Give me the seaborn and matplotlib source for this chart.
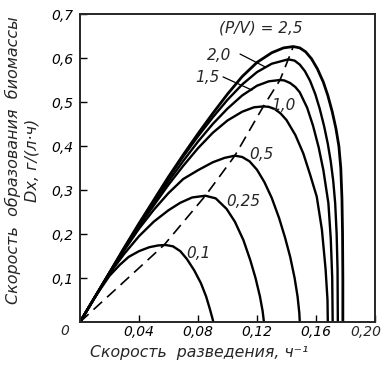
import matplotlib
matplotlib.use("Agg")
import matplotlib.pyplot as plt
import seaborn as sns
import pandas as pd

# скорость разведения D и продуктивность DX для каждого P/V
d_01 = [0, 0.01, 0.02, 0.027, 0.033, 0.04, 0.047, 0.053, 0.058, 0.063, 0.068, 0.0725, 0.0775, 0.082, 0.0855, 0.088, 0.0898, 0.0904]
y_01 = [0, 0.056, 0.105, 0.130, 0.148, 0.161, 0.170, 0.174, 0.175, 0.172, 0.161, 0.143, 0.117, 0.088, 0.058, 0.030, 0.008, 0]

d_025 = [0, 0.01, 0.02, 0.03, 0.04, 0.05, 0.06, 0.068, 0.076, 0.085, 0.092, 0.0994, 0.105, 0.1108, 0.1155, 0.119, 0.122, 0.1238, 0.1247]
y_025 = [0, 0.056, 0.11, 0.155, 0.195, 0.228, 0.254, 0.271, 0.283, 0.287, 0.281, 0.257, 0.228, 0.186, 0.140, 0.10, 0.058, 0.025, 0]

d_05 = [0, 0.01, 0.02, 0.03, 0.04, 0.05, 0.06, 0.07, 0.08, 0.09, 0.098, 0.105, 0.110, 0.115, 0.120, 0.125, 0.130, 0.135, 0.139, 0.1425, 0.1455, 0.1475, 0.1487, 0.149]
y_05 = [0, 0.056, 0.111, 0.163, 0.212, 0.255, 0.293, 0.325, 0.345, 0.363, 0.373, 0.378, 0.375, 0.365, 0.346, 0.318, 0.282, 0.236, 0.192, 0.148, 0.100, 0.058, 0.02, 0]

d_10 = [0, 0.01, 0.02, 0.03, 0.04, 0.05, 0.06, 0.07, 0.08, 0.09, 0.10, 0.11, 0.118, 0.1243, 0.128, 0.132, 0.136, 0.140, 0.146, 0.1514, 0.156, 0.1605, 0.164, 0.1665, 0.1678, 0.168]
y_10 = [0, 0.056, 0.112, 0.166, 0.218, 0.265, 0.312, 0.355, 0.395, 0.43, 0.458, 0.478, 0.488, 0.490, 0.489, 0.484, 0.474, 0.459, 0.425, 0.383, 0.335, 0.285, 0.21, 0.12, 0.05, 0]

d_15 = [0, 0.01, 0.02, 0.03, 0.04, 0.05, 0.06, 0.07, 0.08, 0.09, 0.10, 0.11, 0.12, 0.128, 0.1356, 0.1385, 0.1425, 0.146, 0.149, 0.154, 0.158, 0.1618, 0.165, 0.1684, 0.170, 0.171, 0.1713]
y_15 = [0, 0.056, 0.112, 0.167, 0.22, 0.27, 0.32, 0.366, 0.41, 0.45, 0.485, 0.515, 0.537, 0.547, 0.550, 0.549, 0.543, 0.534, 0.522, 0.487, 0.446, 0.397, 0.345, 0.27, 0.19, 0.10, 0]

d_20 = [0, 0.01, 0.02, 0.03, 0.04, 0.05, 0.06, 0.07, 0.08, 0.09, 0.10, 0.11, 0.12, 0.13, 0.1412, 0.1455, 0.149, 0.1525, 0.156, 0.1595, 0.1625, 0.1655, 0.168, 0.170, 0.1717, 0.173, 0.174, 0.1746, 0.1748]
y_20 = [0, 0.056, 0.112, 0.168, 0.222, 0.274, 0.328, 0.376, 0.422, 0.465, 0.505, 0.54, 0.568, 0.587, 0.597, 0.594, 0.585, 0.570, 0.548, 0.518, 0.485, 0.445, 0.405, 0.365, 0.32, 0.27, 0.2, 0.12, 0]

d_25 = [0, 0.01, 0.02, 0.03, 0.04, 0.05, 0.06, 0.07, 0.08, 0.09, 0.10, 0.11, 0.12, 0.13, 0.138, 0.1446, 0.149, 0.153, 0.157, 0.161, 0.165, 0.168, 0.171, 0.1735, 0.1755, 0.1768, 0.1776, 0.178, 0.1782, 0.1782]
y_25 = [0, 0.056, 0.112, 0.169, 0.224, 0.277, 0.33, 0.38, 0.428, 0.474, 0.518, 0.558, 0.59, 0.612, 0.623, 0.626, 0.623, 0.614, 0.598, 0.575, 0.545, 0.515, 0.478, 0.44, 0.40, 0.35, 0.28, 0.2, 0.1, 0]

# геометрическое место максимумов (штриховая)
d_max = [0, 0.057, 0.085, 0.105, 0.1243, 0.1356, 0.1412, 0.1446]
y_max = [0, 0.175, 0.287, 0.378, 0.490, 0.550, 0.597, 0.626]

x_ticks = [0.04, 0.08, 0.12, 0.16, 0.20]
x_labels = ["0,04", "0,08", "0,12", "0,16", ""]
y_ticks = [0.1, 0.2, 0.3, 0.4, 0.5, 0.6, 0.7]
y_labels = ["0,1", "0,2", "0,3", "0,4", "0,5", "0,6", "0,7"]

curves = {"0,1": (d_01, y_01), "0,25": (d_025, y_025), "0,5": (d_05, y_05),
          "1,0": (d_10, y_10), "1,5": (d_15, y_15), "2,0": (d_20, y_20), "2,5": (d_25, y_25)}

rows = []
for key, (dd, yy) in curves.items():
    for i in range(len(dd)):
        rows.append({"pv": key, "D": dd[i], "DX": yy[i]})
df = pd.DataFrame(rows)
df_max = pd.DataFrame({"D": d_max, "DX": y_max})

sns.set_style("ticks")
plt.rcParams['font.family'] = ['DejaVu Sans']
plt.rcParams['font.style'] = 'italic'

fig = plt.figure(figsize=(3.85, 3.72), dpi=100)
ax = fig.add_axes([80/385, 1 - 322/372, 295/385, 308/372])

for key in curves:
    lw = 2.0 if key == "2,5" else 1.7
    sns.lineplot(data=df[df.pv == key], x="D", y="DX", sort=False, estimator=None,
                 color="black", linewidth=lw, ax=ax)
sns.lineplot(data=df_max, x="D", y="DX", sort=False, estimator=None, color="black",
             linewidth=1.2, ax=ax)
ax.lines[-1].set_dashes([7, 4])

ax.set_xlim(0, 0.20)
ax.set_ylim(0, 0.7)
ax.set_xticks(x_ticks)
ax.set_xticklabels(x_labels)
ax.set_yticks(y_ticks)
ax.set_yticklabels(y_labels)
ax.tick_params(direction="in", length=5, width=1, labelsize=10, colors="black")
ax.tick_params(axis="x", pad=2)
ax.tick_params(axis="y", pad=5)
for s in ax.spines.values():
    s.set_linewidth(1.4)
    s.set_visible(True)
ax.set_xlabel("")
ax.set_ylabel("")

ax.text(-0.051, -0.028, "0", transform=ax.transAxes, ha="center", va="center", fontsize=10)
ax.text(0.194, -0.009, "0,20", transform=ax.get_xaxis_transform(), ha="center", va="top", fontsize=10)

# подписи кривых
ax.text(0.1227, 0.668, "(P/V) = 2,5", ha="center", va="center", fontsize=11)
ax.text(0.0942, 0.605, "2,0", ha="center", va="center", fontsize=11)
ax.plot([0.1085, 0.1254], [0.609, 0.580], color="black", lw=0.9)
ax.text(0.0861, 0.555, "1,5", ha="center", va="center", fontsize=11)
ax.plot([0.097, 0.1166], [0.557, 0.527], color="black", lw=0.9)
ax.text(0.1376, 0.493, "1,0", ha="center", va="center", fontsize=11)
ax.text(0.1227, 0.380, "0,5", ha="center", va="center", fontsize=11)
ax.text(0.1105, 0.275, "0,25", ha="center", va="center", fontsize=11)
ax.text(0.080, 0.155, "0,1", ha="center", va="center", fontsize=11)

fig.text(199/385, 1 - 352/372, "Скорость  разведения, ч⁻¹", ha="center", va="center", fontsize=11.3)
fig.text(22/385, 1 - 160/372, "Скорость  образования  биомассы\nDx, г/(л·ч)", rotation=90,
         ha="center", va="center", fontsize=11.5, linespacing=1.3)

fig.savefig("out.png", dpi=100)
